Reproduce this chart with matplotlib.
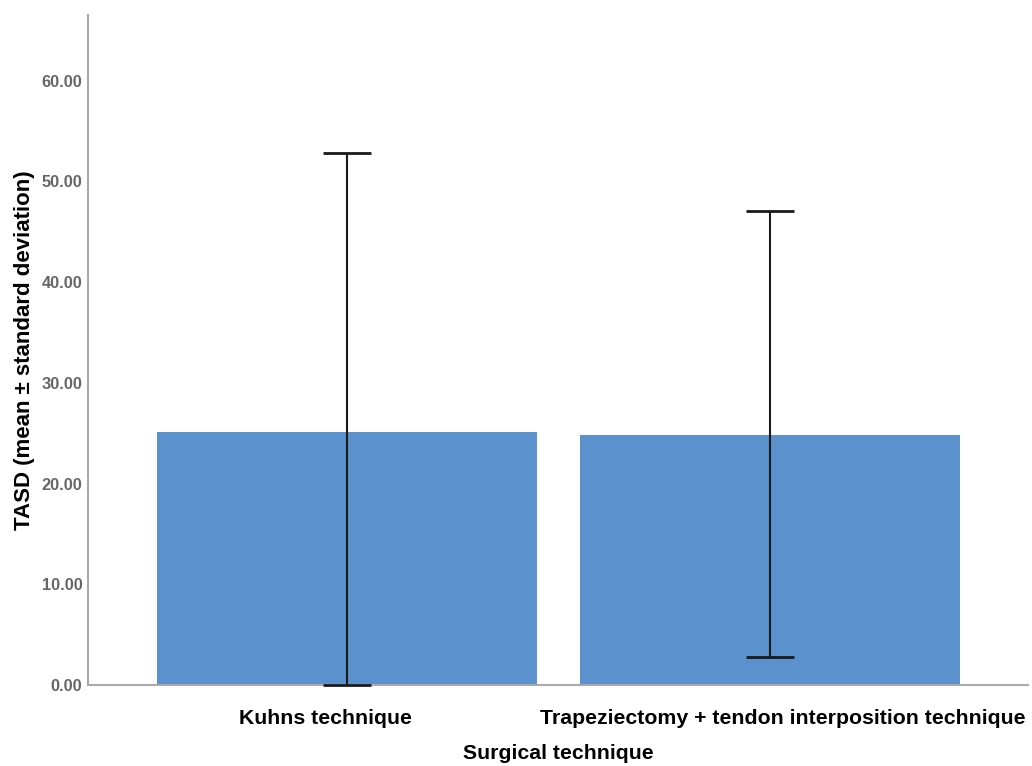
import matplotlib.pyplot as plt
import matplotlib.transforms as mtransforms

# data
groups = ["Kuhns technique", "Trapeziectomy + tendon interposition technique"]
means = [25.1, 24.8]
upper = [52.8, 47.0]
lower = [0.0, 2.8]

plt.rcParams['font.family'] = ['Liberation Sans', 'DejaVu Sans']

fig = plt.figure(figsize=(10.32, 7.66), dpi=100)
ax = fig.add_axes([0.0853, 0.1057, 0.9108, 0.8747])

x = list(range(len(groups)))
err_lo = [m - l for m, l in zip(means, lower)]
err_hi = [u - m for m, u in zip(means, upper)]

ax.bar(x, means, width=0.898, color="#5b91cc", zorder=2)
ax.errorbar(x, means, yerr=[err_lo, err_hi], fmt="none", ecolor="#1a1a1a",
            elinewidth=1.5, capsize=17, capthick=2, zorder=3, clip_on=False)

ax.set_xlim(-0.612, 1.61)
ax.set_ylim(0, 66.5)
ax.set_yticks([0, 10, 20, 30, 40, 50, 60])
ax.set_yticklabels(["%.2f" % v for v in [0, 10, 20, 30, 40, 50, 60]],
                   fontsize=11.8, fontweight="bold", color="#666666")
ax.set_xticks(x)
ax.set_xticklabels(groups, fontsize=15.3, fontweight="bold")
ax.tick_params(axis="y", length=0, pad=4)
ax.tick_params(axis="x", length=0, pad=17)

# labels sit slightly off-centre in the original
shifts = [-21, 13]
for lab, dx in zip(ax.get_xticklabels(), shifts):
    lab.set_transform(lab.get_transform() + mtransforms.ScaledTranslation(dx / 100, 0, fig.dpi_scale_trans))

for s in ["top", "right"]:
    ax.spines[s].set_visible(False)
for s in ["left", "bottom"]:
    ax.spines[s].set_color("#aaaaaa")
    ax.spines[s].set_linewidth(1.5)

ax.set_xlabel("Surgical technique", fontsize=15.3, fontweight="bold", labelpad=12)
ax.set_ylabel("TASD (mean ± standard deviation)", fontsize=16, fontweight="bold", labelpad=5)

fig.savefig("out.png", dpi=100)
